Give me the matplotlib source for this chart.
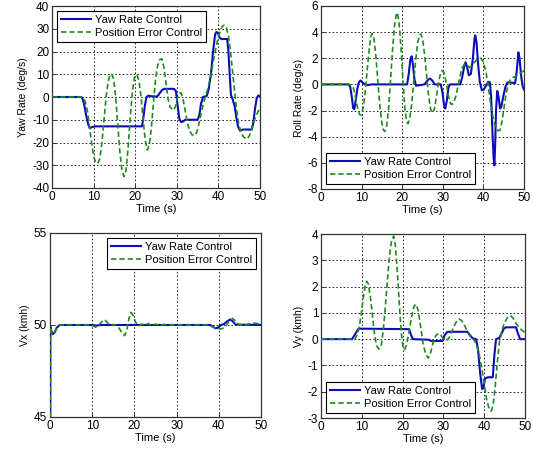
import matplotlib
matplotlib.use("Agg")
import matplotlib.pyplot as plt

plt.rcParams['font.family'] = ['Liberation Sans', 'DejaVu Sans']
plt.rcParams['font.size'] = 8
plt.rcParams['axes.unicode_minus'] = False

# ---- Yaw rate (deg/s) ----
yaw_t_yrc = [0, 7, 7.3, 7.7, 8.2, 8.7, 9.1, 9.6, 10.5, 21.6, 21.9, 22.3, 22.7, 23.2, 24, 25.3,
             25.8, 26.4, 27, 29.3, 29.8, 30.2, 30.6, 31, 31.5, 32, 35, 35.4, 35.8, 36.3, 37.2,
             37.6, 38.2, 38.7, 39.2, 39.5, 39.9, 40.3, 40.7, 42.1, 42.4, 42.7, 43, 43.4, 43.9,
             44.3, 44.7, 45.2, 45.8, 48, 48.4, 48.8, 49.2, 49.6, 50]
yaw_v_yrc = [0, 0, -0.5, -3, -8, -12, -13.8, -13.2, -12.9, -12.9, -10, -4, 0, 0.6, 0.3, 0.2,
             1.5, 3, 3.6, 3.6, 2.5, -4, -9.5, -11, -10.8, -10, -10, -8, -3, 0, 0.5,
             3, 10, 20, 27.5, 28.6, 28, 26, 25.5, 25.5, 20, 10, 1, -1, -4,
             -9, -13, -14.8, -14.3, -14.3, -11, -5, -0.5, 0.7, 0.2]
yaw_t_pec = [0, 7, 7.5, 8, 8.5, 9, 9.5, 10, 10.5, 11, 11.5, 12, 12.5, 13, 13.5, 14, 14.3, 14.8,
             15.3, 15.8, 16.3, 16.8, 17.3, 17.8, 18.3, 18.8, 19.3, 19.8, 20.4, 20.9, 21.4,
             21.9, 22.4, 22.9, 23.4, 23.9, 24.4, 24.9, 25.4, 25.9, 26.4, 26.9, 27.4, 27.9,
             28.4, 29.2, 29.7, 30.2, 30.6, 31, 31.5, 32, 32.5, 33, 33.6, 34.2, 34.8, 35.4,
             36, 36.5, 37, 37.5, 38, 38.5, 39, 39.5, 40, 40.5, 41, 41.4, 41.9, 42.4, 42.9,
             43.4, 43.9, 44.4, 44.9, 45.4, 46, 46.7, 47.3, 47.9, 48.5, 49, 49.5, 50]
yaw_v_pec = [0, 0, -0.3, -2, -6, -13, -20, -26, -28.8, -29.2, -27, -20, -10, 0, 7, 10, 10.2, 8,
             0, -12, -24, -32, -35, -32, -22, -9, 2, 8.5, 10, 7, 0,
             -10, -19, -23.3, -21, -13, -2, 8, 14, 16.5, 16.8, 13, 6, -1,
             -4.5, -5.8, -4, 0, 1.7, 1.8, -1, -6, -11, -14.5, -16.5, -17, -15.5, -11,
             -6, -2, 1, 4, 8, 13, 18, 22.5, 26.5, 29.5, 31.2, 31.6, 30.5, 27, 20,
             11, 2, -6, -12, -15.5, -17.5, -18.5, -17.5, -15, -11, -8.5, -6.5, -4.5]

# ---- Roll rate (deg/s) ----
roll_t_yrc = [0, 6.8, 7.2, 7.6, 7.9, 8.2, 8.5, 8.9, 9.3, 9.7, 10.2, 10.8, 11.5, 12.5, 21.2,
              21.6, 22.0, 22.3, 22.6, 23.0, 23.4, 24.5, 25.5, 26.2, 26.8, 27.4, 28, 29.5,
              29.9, 30.3, 30.6, 31, 31.4, 31.8, 34.3, 34.8, 35.3, 35.6, 36, 36.4, 36.9,
              37.4, 37.8, 38.0, 38.3, 38.7, 39.1, 39.6, 40.1, 40.6, 41.2, 41.6, 41.9,
              42.2, 42.5, 42.7, 42.9, 43.1, 43.4, 43.7, 44.1, 44.4, 44.9, 45.4, 45.9,
              46.5, 47.8, 48.2, 48.6, 48.9, 49.3, 49.7, 50]
roll_v_yrc = [0, 0, -0.2, -1.0, -1.8, -1.9, -1.3, -0.4, 0.15, 0.3, 0.15, 0.0, -0.05, 0.0, 0.0,
              0.8, 1.9, 2.15, 1.6, 0.4, -0.1, -0.05, 0.0, 0.3, 0.45, 0.3, 0.0, 0.0,
              -0.6, -1.6, -1.85, -1.2, -0.2, 0.0, 0.0, 0.6, 1.45, 1.7, 1.3, 0.7, 0.8,
              2.0, 3.5, 3.75, 3.2, 1.5, 0.2, -0.45, -0.4, -0.1, 0.2, 0.15, -1.0,
              -3.5, -5.6, -6.2, -4.5, -2.0, -0.5, -0.9, -1.85, -1.7, -0.9, -0.2, 0.15,
              0.15, 0.1, 1.0, 2.45, 2.0, 0.6, -0.2, -0.4]
roll_t_pec = [0, 7, 7.5, 8, 8.5, 9, 9.5, 9.9, 10.4, 10.9, 11.4, 11.9, 12.3, 12.6, 13, 13.5, 14,
              14.5, 15, 15.4, 15.7, 16.1, 16.6, 17.1, 17.6, 18.1, 18.5, 18.8, 19.2, 19.7,
              20.2, 20.7, 21.1, 21.4, 21.8, 22.3, 22.8, 23.3, 23.8, 24.3, 24.6, 25, 25.5,
              26, 26.5, 27, 27.4, 27.9, 28.4, 28.9, 29.4, 29.8, 30.3, 30.8, 31.3, 31.8,
              32.2, 32.7, 33.2, 33.7, 34.2, 34.8, 35.4, 36, 36.6, 37.2, 37.8, 38.5, 39.4,
              40, 40.6, 41.2, 41.8, 42.4, 43, 43.6, 44.1, 44.6, 45.1, 45.6, 46.1, 46.7,
              47.3, 47.9, 48.5, 49.2, 50]
roll_v_pec = [0, 0, -0.05, -0.3, -1.0, -1.8, -2.3, -2.35, -1.8, -0.5, 1.2, 2.8, 3.7, 3.9, 3.6, 2.2, 0.2,
              -1.7, -3.0, -3.5, -3.6, -3.3, -2.0, 0.2, 2.6, 4.5, 5.3, 5.5, 4.8, 2.8,
              0.2, -2.0, -2.8, -3.0, -2.7, -1.6, 0.1, 1.8, 3.2, 3.8, 3.85, 3.5, 2.3,
              0.7, -0.9, -1.9, -2.2, -1.9, -1.0, 0.1, 0.8, 1.05, 0.9, 0.2, -0.8, -1.4,
              -1.55, -1.4, -0.9, -0.2, 0.6, 1.3, 1.55, 1.45, 1.3, 1.45, 1.7, 1.95, 2.0,
              1.7, 1.0, -0.2, -1.5, -2.6, -3.3, -3.55, -3.5, -2.8, -1.7, -0.7, 0.0, 0.4,
              0.55, 0.6, 0.75, 0.9, 1.05]

# ---- Longitudinal speed Vx (km/h) ----
vx_t_yrc = [0, 0.08, 0.4, 0.7, 1.1, 1.6, 2.3, 10, 11, 12, 38, 38.5, 39.2, 39.8, 40.5, 41.2,
            42, 42.7, 43.3, 44, 50]
vx_v_yrc = [0, 49.9, 49.6, 49.5, 49.6, 49.85, 50.0, 50.0, 49.97, 50.0, 50.0, 49.92, 49.82,
            49.85, 50.0, 50.05, 50.2, 50.3, 50.2, 50.02, 50.0]
vx_t_pec = [0, 0.08, 0.4, 0.7, 1.1, 1.6, 2.3, 9.5, 10.2, 10.8, 11.4, 12.2, 12.9, 13.5, 14.2,
            15.5, 16.3, 17.0, 17.7, 18.2, 18.7, 19.2, 19.7, 20.3, 21, 21.8, 22.5, 23.3, 24,
            25, 26, 27, 28, 30, 32, 34, 37, 38, 39, 40, 40.8, 41.5, 42.3, 43.3, 44, 44.8,
            46, 47, 48.5, 50]
vx_v_pec = [0, 49.9, 49.6, 49.5, 49.6, 49.85, 50.0, 50.0, 49.95, 49.88, 49.95, 50.15, 50.3,
            50.15, 50.0, 50.0, 49.85, 49.6, 49.42, 49.7, 50.35, 50.68, 50.5, 50.15, 49.95,
            50.05, 49.98, 50.08, 49.95, 50.05, 49.97, 50.03, 49.98, 50.02, 49.98, 50.0,
            50.0, 49.95, 49.85, 49.78, 49.8, 49.9, 50.15, 50.35, 50.2, 50.02, 49.98, 50.05,
            50.1, 50.05]

# ---- Lateral speed Vy (km/h) ----
vy_t_yrc = [0, 7.6, 8.4, 9.2, 21.6, 22.1, 22.5, 26.3, 27, 29.8, 30.3, 31, 35.9, 36.5, 37.2,
            38, 38.5, 39, 39.5, 39.8, 40.2, 40.9, 42.1, 42.5, 42.9, 43.7, 44.2, 44.8, 45.3,
            47.8, 48.3, 48.8, 50]
vy_v_yrc = [0, 0, 0.2, 0.4, 0.38, 0.15, 0.0, -0.02, -0.07, -0.07, 0.15, 0.28, 0.28, 0.15, 0.03,
            0.0, -0.4, -1.3, -1.9, -1.85, -1.5, -1.45, -1.45, -0.6, 0.0, 0.05, 0.2, 0.4, 0.45,
            0.45, 0.2, 0.0, 0.0]
vy_t_pec = [0, 8.3, 8.8, 9.3, 9.8, 10.3, 10.8, 11.2, 11.6, 12.1, 12.6, 13.1, 13.6, 14.2, 14.8,
            15.3, 15.8, 16.3, 16.8, 17.3, 17.8, 18.2, 18.7, 19.2, 19.7, 20.1, 20.5, 21, 21.6,
            22.2, 22.8, 23.3, 23.8, 24.4, 25, 25.6, 26.3, 26.9, 27.6, 28.2, 28.8, 29.4, 30,
            30.7, 31.4, 32.2, 33, 33.8, 34.4, 35.1, 35.8, 36.6, 37.4, 38.1, 38.8, 39.4, 40,
            40.6, 41.2, 41.7, 42.2, 42.7, 43.2, 43.7, 44.3, 44.9, 45.6, 46.4, 47.1, 47.8,
            48.5, 49.2, 50]
vy_v_pec = [0, 0, 0.15, 0.4, 0.9, 1.5, 2.0, 2.2, 2.1, 1.6, 0.9, 0.2, -0.25, -0.38, -0.2,
            0.4, 1.3, 2.3, 3.2, 3.75, 3.92, 3.6, 2.6, 1.3, 0.2, -0.3, -0.4, -0.2, 0.3,
            0.85, 1.25, 1.33, 1.1, 0.5, -0.15, -0.55, -0.72, -0.5, -0.05, 0.15, 0.22, 0.15, 0.0,
            -0.05, 0.05, 0.35, 0.62, 0.77, 0.72, 0.55, 0.3, 0.1, 0.0, -0.2, -0.6, -1.1, -1.7,
            -2.3, -2.65, -2.74, -2.5, -1.8, -0.9, -0.15, 0.3, 0.6, 0.8, 0.9, 0.8, 0.6,
            0.45, 0.35, 0.25]

series_names = ["Yaw Rate Control", "Position Error Control"]
x_label = "Time (s)"
x_ticks = [0, 10, 20, 30, 40, 50]

BLUE = "#0c0cbc"
GREEN = "#1f8a1f"
FRAME = "#333333"

fig = plt.figure(figsize=(5.33, 4.49), dpi=100)

panels = [
    # (axes rect, y label, y ticks, y limits, legend location, data)
    ([0.0976, 0.5813, 0.3903, 0.4053], "Yaw Rate (deg/s)", list(range(-40, 41, 10)), (-40, 40),
     "upper left", (yaw_t_yrc, yaw_v_yrc, yaw_t_pec, yaw_v_pec)),
    ([0.6023, 0.5791, 0.3809, 0.4076], "Roll Rate (deg/s)", list(range(-8, 7, 2)), (-8, 6),
     "lower left", (roll_t_yrc, roll_v_yrc, roll_t_pec, roll_v_pec)),
    ([0.0938, 0.0713, 0.3959, 0.4098], "Vx (kmh)", [45, 50, 55], (45, 55),
     "upper right", (vx_t_yrc, vx_v_yrc, vx_t_pec, vx_v_pec)),
    ([0.6023, 0.0690, 0.3827, 0.4098], "Vy (kmh)", list(range(-3, 5, 1)), (-3, 4),
     "lower left", (vy_t_yrc, vy_v_yrc, vy_t_pec, vy_v_pec)),
]

for rect, ylab, yticks, ylim, loc, (t1, v1, t2, v2) in panels:
    ax = fig.add_axes(rect)
    ax.plot(t1, v1, color=BLUE, lw=1.5, label=series_names[0], zorder=3)
    ax.plot(t2, v2, color=GREEN, lw=1.2, linestyle=(0, (3.2, 1.8)),
            label=series_names[1], zorder=4)
    ax.set_xlim(0, 50)
    ax.set_ylim(*ylim)
    ax.set_xticks(x_ticks)
    ax.set_yticks(yticks)
    ax.grid(True, color="#222222", linestyle=(0, (1.6, 2.2)), linewidth=0.7)
    ax.set_axisbelow(True)
    for s in ax.spines.values():
        s.set_color(FRAME)
        s.set_linewidth(0.9)
    ax.tick_params(direction="in", length=3, width=0.7, colors=FRAME,
                   labelcolor="black", labelsize=8.5, pad=2)
    ax.set_xlabel(x_label, fontsize=8, labelpad=1)
    ax.set_ylabel(ylab, fontsize=7.5, labelpad=3)
    leg = ax.legend(loc=loc, fontsize=8, frameon=True, fancybox=False,
                    edgecolor="black", framealpha=1, handlelength=2.7,
                    borderpad=0.35, labelspacing=0.25, handletextpad=0.4,
                    borderaxespad=0.45)
    leg.get_frame().set_linewidth(0.8)

fig.savefig("out.png", dpi=100)
